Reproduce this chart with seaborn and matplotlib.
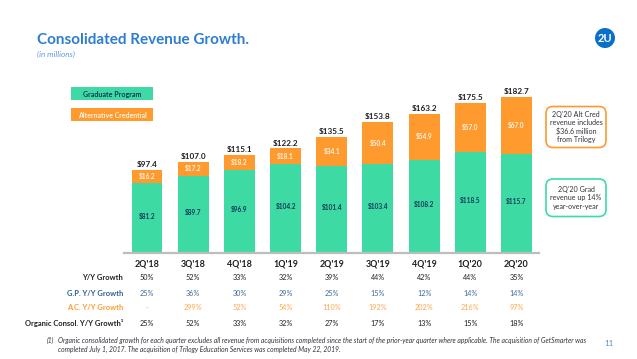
import matplotlib
matplotlib.use('Agg')
import matplotlib.pyplot as plt
import pandas as pd
import seaborn as sns
from matplotlib.patches import Circle, FancyBboxPatch, Rectangle

quarters = ["2Q'18", "3Q'18", "4Q'18", "1Q'19", "2Q'19", "3Q'19", "4Q'19", "1Q'20", "2Q'20"]
grad_program = [81.2, 89.7, 96.9, 104.2, 101.4, 103.4, 108.2, 118.5, 115.7]
alt_credential = [16.2, 17.2, 18.2, 18.1, 34.1, 50.4, 54.9, 57.0, 67.0]
totals = [97.4, 107.0, 115.1, 122.2, 135.5, 153.8, 163.2, 175.5, 182.7]

row_labels = ['Y/Y Growth', 'G.P. Y/Y Growth', 'A.C. Y/Y Growth', 'Organic Consol. Y/Y Growth¹']
yy_growth = ['50%', '52%', '33%', '32%', '39%', '44%', '42%', '44%', '35%']
gp_growth = ['25%', '36%', '30%', '29%', '25%', '15%', '12%', '14%', '14%']
ac_growth = ['-', '299%', '52%', '54%', '110%', '192%', '202%', '216%', '97%']
organic_growth = ['25%', '52%', '33%', '32%', '27%', '17%', '13%', '15%', '18%']

GREEN = '#3DDBA3'
ORANGE = '#FF9A2E'
BLUE = '#2E7DD1'
NAVY = '#12395B'
DARK = '#1F1F24'
W, H = 637, 359

sns.set_style('white')
plt.rcParams['font.family'] = ['Lato', 'DejaVu Sans']

fig = plt.figure(figsize=(W / 100, H / 100), dpi=100)

# overlay in pixel coordinates for the slide furniture
over = fig.add_axes([0, 0, 1, 1])
over.set_xlim(0, W)
over.set_ylim(H, 0)
over.axis('off')

# chart axes, placed to line up with the slide
top, base, left, right = 85, 252.7, 124, 539
ax = fig.add_axes([left / W, 1 - base / H, (right - left) / W, (base - top) / H])
df = pd.DataFrame({'quarter': quarters, 'grad': grad_program, 'alt': alt_credential})
sns.barplot(data=df, x='quarter', y='grad', color=GREEN, width=0.67, saturation=1, linewidth=0, ax=ax)
sns.barplot(data=df, x='quarter', y='alt', bottom=df['grad'], color=ORANGE, width=0.67, saturation=1, linewidth=0, ax=ax)
ax.set_xlim(-0.498, 8.487)
ax.set_ylim(0, (base - top) / 0.853)
ax.set_xlabel('')
ax.set_ylabel('')
ax.set_yticks([])
ax.patch.set_alpha(0)
sns.despine(ax=ax, left=True)
ax.spines['bottom'].set_color('#BDBDBD')
ax.spines['bottom'].set_linewidth(1.6)
ax.tick_params(axis='x', length=0, pad=5)
for lab in ax.get_xticklabels():
    lab.set_fontsize(6.4)
    lab.set_fontweight('bold')
    lab.set_color(DARK)

for i in range(len(quarters)):
    g, a = grad_program[i], alt_credential[i]
    ax.text(i, g / 2 + 2, f'${g:.1f}', ha='center', va='center', fontsize=4.7, color=NAVY, fontweight='bold')
    ax.text(i, g + a / 2, f'${a:.1f}', ha='center', va='center', fontsize=4.7, color='#FFF3E3', fontweight='bold')
    ax.text(i, g + a + 2, f'${totals[i]:.1f}', ha='center', va='bottom', fontsize=5.9, color=DARK, fontweight='bold')

# growth table under the bars
rows = [yy_growth, gp_growth, ac_growth, organic_growth]
row_y = [278, 293, 308, 323]
row_colors = [DARK, '#2F5C8F', ORANGE, DARK]
row_vals = [DARK, '#3F6A9A', '#FFA64A', DARK]
for vals, y, c, vc, name in zip(rows, row_y, row_colors, row_vals, row_labels):
    over.text(123, y, name, ha='right', va='center', fontsize=5.45, fontweight='bold', color=c)
    for i, v in enumerate(vals):
        over.text(147 + i * 46.19, y, v, ha='center', va='center', fontsize=5.2, color=vc)

# title, logo, page number
over.text(37, 40, 'Consolidated Revenue Growth.', fontsize=11, fontweight='bold', color=BLUE, va='center')
over.text(37, 54, '(in millions)', fontsize=5.9, style='italic', color='#5C9BE0', va='center')
over.add_patch(Circle((605, 38), 10, color='#0A6FC9', lw=0))
over.text(605, 38, '2U', fontsize=8, fontweight='bold', color='white', ha='center', va='center')
over.text(609, 344, '11', fontsize=5.8, color='#4A90D9', ha='center', va='center')

# legend boxes
over.add_patch(Rectangle((71, 86.5), 82, 13.5, color=GREEN, lw=0))
over.add_patch(Rectangle((71, 107.5), 82, 13.5, color=ORANGE, lw=0))
over.text(112, 94, 'Graduate Program', fontsize=5.15, fontweight='bold', color=NAVY, ha='center', va='center')
over.text(112, 115, 'Alternative Credential', fontsize=5.05, fontweight='bold', color='#FFF3E3', ha='center', va='center')

# callouts
for y0, y1, c in [(106.5, 147.5, ORANGE), (179, 216.5, GREEN)]:
    over.add_patch(FancyBboxPatch((551, y0 + 5), 50, y1 - y0 - 10, boxstyle='round,pad=5,rounding_size=7',
                                  fc='white', ec=c, lw=1.2))
for y, s in [(115, "2Q'20 Alt Cred"), (122.5, 'revenue includes'), (131.5, '$36.6 million'), (139.5, 'from Trilogy'),
             (189.5, "2Q'20 Grad"), (197.5, 'revenue up 14%'), (206, 'year-over-year')]:
    over.text(576, y, s, fontsize=5.1, color='#33333A', ha='center', va='center')

# footnote
over.text(47, 340.5, '(1)', fontsize=4.85, style='italic', color='#33333A', va='center')
over.text(58.5, 340.5, 'Organic consolidated growth for each quarter excludes all revenue from acquisitions completed since the start of the prior-year quarter where applicable. The acquisition of GetSmarter was',
          fontsize=4.85, style='italic', color='#33333A', va='center')
over.text(58.5, 349.5, 'completed July 1, 2017. The acquisition of Trilogy Education Services was completed May 22, 2019.',
          fontsize=4.85, style='italic', color='#33333A', va='center')

fig.savefig('out.png', dpi=100)
